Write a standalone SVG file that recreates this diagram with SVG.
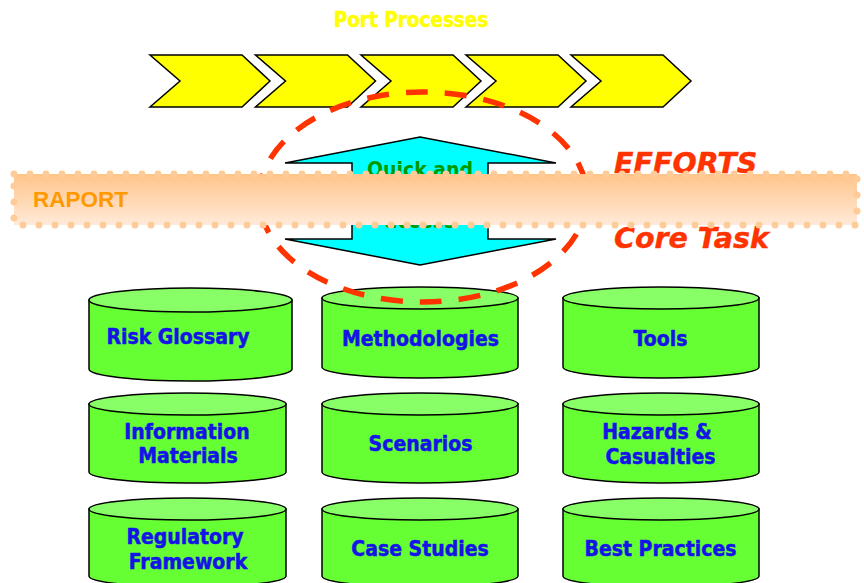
<svg xmlns="http://www.w3.org/2000/svg" width="864" height="583" viewBox="0 0 864 583">
<defs>
<linearGradient id="bandGrad" x1="0" y1="0" x2="0" y2="1">
<stop offset="0" stop-color="#FFC48A"/>
<stop offset="1" stop-color="#FFEAD8"/>
</linearGradient>
<style>
.chev{fill:#FFFF00;stroke:#000;stroke-width:1.5;stroke-linejoin:miter}
.body{fill:#66FF33;stroke:#000;stroke-width:1.5}
.top{fill:#88FF66;stroke:#000;stroke-width:1.5}
.lbl{font-family:"DejaVu Sans Condensed","DejaVu Sans",Verdana,sans-serif;font-stretch:condensed;font-weight:bold;font-size:21px;fill:#1414E6;stroke:#1414E6;stroke-width:0.5;text-anchor:middle}
.big{font-family:"DejaVu Sans",Verdana,sans-serif;font-weight:bold;font-style:italic;font-size:28.5px;fill:#FF3300;stroke:#FF3300;stroke-width:0.4}
.qa{font-family:"DejaVu Sans Condensed","DejaVu Sans",Verdana,sans-serif;font-stretch:condensed;font-weight:bold;font-size:21px;fill:#009900;text-anchor:middle}
</style>
</defs>
<rect width="864" height="583" fill="#FFFFFF"/>

<g id="title">
<text x="411" y="27" style="font-family:'DejaVu Sans Condensed','DejaVu Sans',Verdana,sans-serif;font-stretch:condensed;font-weight:bold;font-size:20.5px;fill:#FFFF00;stroke:#FFFF00;stroke-width:0.5;text-anchor:middle">Port Processes</text>
</g>

<g id="processes">
<polygon class="chev" points="150,55 242,55 270,81 242,107 150,107 180,81"/>
<polygon class="chev" points="255.5,55 347.5,55 375.5,81 347.5,107 255.5,107 285.5,81"/>
<polygon class="chev" points="361,55 453,55 481,81 453,107 361,107 391,81"/>
<polygon class="chev" points="466,55 558,55 586,81 558,107 466,107 496,81"/>
<polygon class="chev" points="571,55 663,55 691,81 663,107 571,107 601,81"/>
</g>

<g id="connectors">
<polygon points="420,137 556,163 488,163 488,239 556,239 420,265 285,239 352,239 352,163 285,163" fill="#00FFFF" stroke="#000" stroke-width="1.5"/>
<text class="qa" x="420" y="177">Quick and</text>
<text class="qa" x="420" y="228">access</text>
</g>

<g id="risk-glossary">
<path class="body" d="M89,300 L89,369 A101.5,12 0 0 0 292,369 L292,300 Z"/>
<ellipse class="top" cx="190.5" cy="300" rx="101.5" ry="12" stroke-width="2.5"/>
<text class="lbl" x="178" y="344" font-size="21.5">Risk Glossary</text>
</g>
<g id="methodologies">
<path class="body" d="M322,298 L322,367 A98,11 0 0 0 518,367 L518,298 Z"/>
<ellipse class="top" cx="420" cy="298" rx="98" ry="11"/>
<text class="lbl" x="420.5" y="346">Methodologies</text>
</g>
<g id="tools">
<path class="body" d="M563,298 L563,367 A98,11 0 0 0 759,367 L759,298 Z"/>
<ellipse class="top" cx="661" cy="298" rx="98" ry="11"/>
<text class="lbl" x="660.5" y="346">Tools</text>
</g>
<g id="information-materials">
<path class="body" d="M89,404 L89,472 A98.5,11 0 0 0 286,472 L286,404 Z"/>
<ellipse class="top" cx="187.5" cy="404" rx="98.5" ry="11"/>
<text class="lbl" x="187" y="439">Information</text>
<text class="lbl" x="188" y="463">Materials</text>
</g>
<g id="scenarios">
<path class="body" d="M322,404 L322,472 A98,11 0 0 0 518,472 L518,404 Z"/>
<ellipse class="top" cx="420" cy="404" rx="98" ry="11"/>
<text class="lbl" x="420.5" y="451">Scenarios</text>
</g>
<g id="hazards-casualties">
<path class="body" d="M563,404 L563,472 A98,11 0 0 0 759,472 L759,404 Z"/>
<ellipse class="top" cx="661" cy="404" rx="98" ry="11"/>
<text class="lbl" x="657" y="439">Hazards &amp;</text>
<text class="lbl" x="660.5" y="464">Casualties</text>
</g>
<g id="regulatory-framework">
<path class="body" d="M89,509 L89,576 A98.5,11 0 0 0 286,576 L286,509 Z"/>
<ellipse class="top" cx="187.5" cy="509" rx="98.5" ry="11"/>
<text class="lbl" x="185" y="544">Regulatory</text>
<text class="lbl" x="188" y="569">Framework</text>
</g>
<g id="case-studies">
<path class="body" d="M322,509 L322,576 A98,11 0 0 0 518,576 L518,509 Z"/>
<ellipse class="top" cx="420" cy="509" rx="98" ry="11"/>
<text class="lbl" x="420" y="556">Case Studies</text>
</g>
<g id="best-practices">
<path class="body" d="M563,509 L563,576 A98,11 0 0 0 759,576 L759,509 Z"/>
<ellipse class="top" cx="661" cy="509" rx="98" ry="11"/>
<text class="lbl" x="660.5" y="556">Best Practices</text>
</g>

<g id="focus-ellipse">
<ellipse cx="423" cy="197" rx="164" ry="105" fill="none" stroke="#FF3300" stroke-width="5.5" stroke-dasharray="22 17"/>
</g>

<g id="labels">
<text class="big" x="614" y="173">EFFORTS</text>
<text class="big" x="614" y="248" font-size="28">Core Task</text>
</g>

<g id="raport">
<rect x="14" y="174" width="843" height="51" fill="url(#bandGrad)" stroke="#FFCC99" stroke-width="7" stroke-linecap="round" stroke-dasharray="0 16"/>
<text x="33" y="207" style="font-family:'Liberation Sans',Arial,sans-serif;font-weight:bold;font-size:22.5px;fill:#FF9900">RAPORT</text>
</g>
</svg>
